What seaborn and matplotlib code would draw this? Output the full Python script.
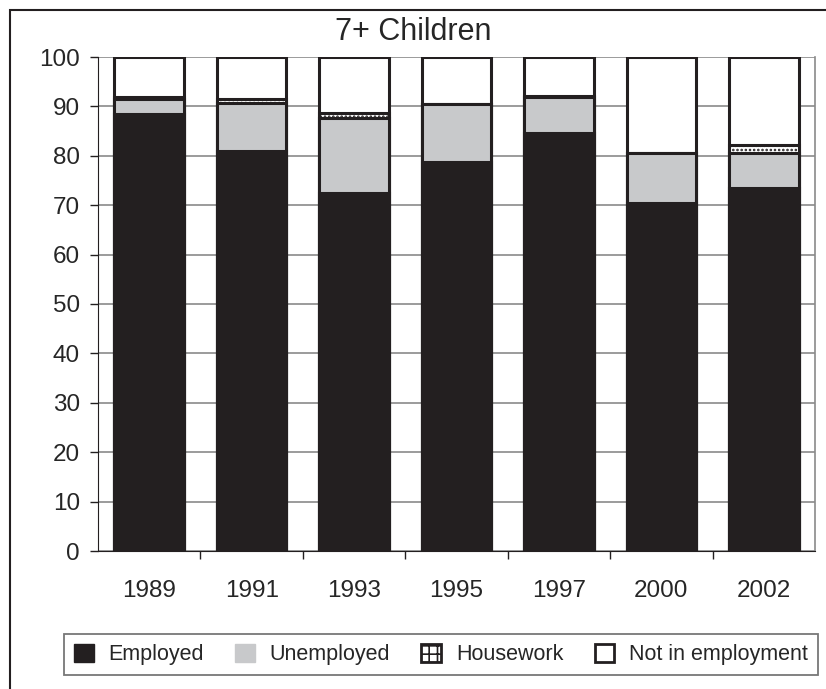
import numpy as np
import pandas as pd
import seaborn as sns
import matplotlib
matplotlib.use("Agg")
from matplotlib import pyplot as plt
from matplotlib.patches import Patch, Rectangle

# values (percent)
years = ["1989", "1991", "1993", "1995", "1997", "2000", "2002"]
employed = [88.5, 81.0, 72.5, 78.8, 84.7, 70.5, 73.5]
unemployed = [2.9, 9.6, 15.1, 11.6, 7.3, 10.0, 7.0]
housework = [0.5, 0.8, 1.1, 0.1, 0.1, 0.1, 1.7]
not_employed = [8.1, 8.6, 11.3, 9.5, 7.9, 19.4, 17.8]

DARK = "#231f20"
GREY = "#c8c9cb"

sns.set_style("ticks")
plt.rcParams["font.family"] = ["Liberation Sans", "DejaVu Sans"]
plt.rcParams["hatch.linewidth"] = 1.2

df = pd.DataFrame({
    "year": years,
    "Employed": employed,
    "Unemployed": unemployed,
    "Housework": housework,
    "Not in employment": not_employed,
})
# stacked tops, drawn from the tallest layer down
df["top_emp"] = df["Employed"]
df["top_unemp"] = df["top_emp"] + df["Unemployed"]
df["top_house"] = df["top_unemp"] + df["Housework"]
df["top_all"] = df["top_house"] + df["Not in employment"]

fig = plt.figure(figsize=(8.26, 6.89), dpi=100)
ax = fig.add_axes([98 / 826, 1 - 551 / 689, (815 - 98) / 826, (551 - 57) / 689])

layers = [
    ("top_all", "white", None),
    ("top_house", "white", "...."),
    ("top_unemp", GREY, None),
    ("top_emp", DARK, None),
]
for col, face, hatch in layers:
    sns.barplot(data=df, x="year", y=col, order=years, color=face, saturation=1,
                width=0.68, edgecolor=DARK, linewidth=2.2, hatch=hatch, ax=ax, zorder=3)

ax.set_ylim(0, 100)
ax.set_xlim(-0.5, len(years) - 0.5)
ax.set_yticks(np.arange(0, 101, 10))
ax.yaxis.grid(True, color="#8a8a8a", linewidth=1.2, zorder=0)
ax.set_axisbelow(True)
ax.set_xlabel("")
ax.set_ylabel("")

ax.tick_params(axis="y", labelsize=17.5, length=6, width=1, color=DARK, pad=7)
ax.tick_params(axis="x", which="major", labelsize=17.5, length=0, pad=21)
ax.set_xticks(np.arange(0.5, len(years) - 0.5, 1), minor=True)
ax.tick_params(axis="x", which="minor", length=6, width=1, color=DARK)

ax.spines["top"].set_visible(False)
ax.spines["left"].set_color(DARK)
ax.spines["bottom"].set_color(DARK)
ax.spines["right"].set_color("#8a8a8a")
ax.spines["right"].set_linewidth(1.2)

fig.text(0.5, 1 - 32 / 689, "7+ Children", ha="center", va="center", fontsize=22)

handles = [
    Patch(facecolor=DARK, edgecolor=DARK, label="Employed"),
    Patch(facecolor=GREY, edgecolor=GREY, label="Unemployed"),
    Patch(facecolor="white", edgecolor=DARK, hatch="++", linewidth=2, label="Housework"),
    Patch(facecolor="white", edgecolor=DARK, linewidth=2, label="Not in employment"),
]
leg = fig.legend(handles=handles, loc="center", bbox_to_anchor=(441 / 826, 1 - 654.5 / 689),
                 ncol=4, fontsize=15.5, frameon=True, fancybox=False, handlelength=0.9,
                 handleheight=0.9, handletextpad=0.7, columnspacing=1.45,
                 borderpad=0.45, borderaxespad=0.0, edgecolor="#555555")
leg.get_frame().set_linewidth(1.3)

# outer chart frame
fig.patches.append(Rectangle((10 / 826, -0.05), 1.2, 1 - 10 / 689 + 0.05, fill=False,
                             edgecolor=DARK, linewidth=1.5, transform=fig.transFigure))

fig.savefig("out.png", dpi=100)
